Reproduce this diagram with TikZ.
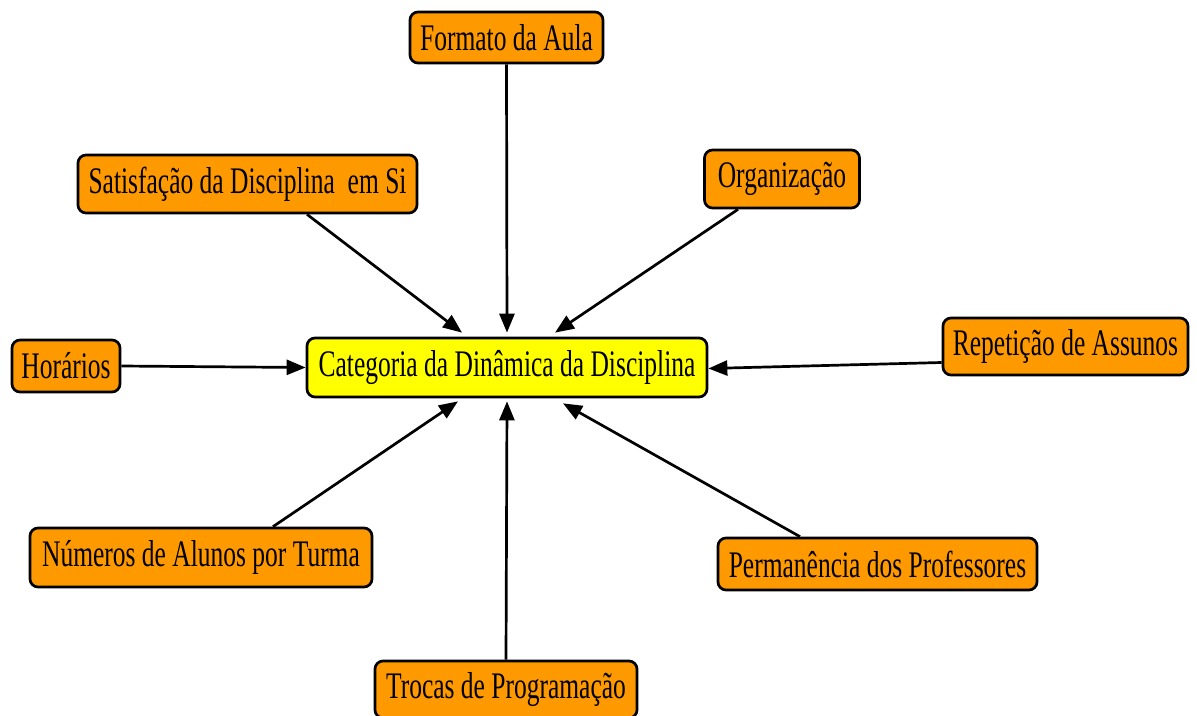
\documentclass[tikz,border=0pt]{standalone}
\usepackage{fontspec}
\setmainfont{Liberation Serif}[FakeStretch=0.68]
\usetikzlibrary{arrows.meta}
\definecolor{boxorange}{RGB}{255,153,0}
\definecolor{boxyellow}{RGB}{255,255,0}
\tikzset{
  box/.style={draw=black, line width=2.7pt, rounded corners=8pt, fill=boxorange,
    inner sep=0pt, align=center, font=\fontsize{37.5}{40}\selectfont},
  centre/.style={box, fill=boxyellow},
  link/.style={line width=2.7pt, -{Triangle[length=19pt,width=15pt]}}
}
\begin{document}
\begin{tikzpicture}[x=1pt,y=-1pt]
\useasboundingbox (0,0) rectangle (1197,715);
\node[centre, minimum width=400pt, minimum height=59pt] (cat) at (507,367.5) {Categoria da Dinâmica da Disciplina};
\node[box, minimum width=193pt, minimum height=51pt] (fmt) at (506.5,37.5) {Formato da Aula};
\node[box, minimum width=339pt, minimum height=58pt] (sat) at (247.5,184) {Satisfação da Disciplina\ \ em Si};
\node[box, minimum width=155pt, minimum height=58pt] (org) at (782,179) {Organização};
\node[box, minimum width=108pt, minimum height=52pt] (hor) at (66,366) {Horários};
\node[box, minimum width=245pt, minimum height=57pt] (rep) at (1065.5,346.5) {Repetição de Assunos};
\node[box, minimum width=342pt, minimum height=59pt] (num) at (201,557.5) {Números de Alunos por Turma};
\node[box, minimum width=319pt, minimum height=52pt] (per) at (877.5,564) {Permanência dos Professores};
\node[box, minimum width=262pt, minimum height=57pt] (trc) at (506,689.5) {Trocas de Programação};

\draw[link] (fmt.south) -- ([yshift=4pt]cat.north);
\draw[link] ([xshift=59.5pt]sat.south) -- ([xshift=-45pt,yshift=4pt]cat.north);
\draw[link] ([xshift=-44pt]org.south) -- ([xshift=48pt,yshift=4pt]cat.north);
\draw[link] (hor.east) -- (cat.west);
\draw[link] ([yshift=-16pt]rep.west) -- ([yshift=-1pt]cat.east);
\draw[link] ([xshift=72pt]num.north) -- ([xshift=-49pt,yshift=-3pt]cat.south);
\draw[link] (trc.north) -- ([yshift=-3pt]cat.south);
\draw[link] ([xshift=-77.5pt]per.north) -- ([xshift=56pt,yshift=-5pt]cat.south);
\end{tikzpicture}
\end{document}
